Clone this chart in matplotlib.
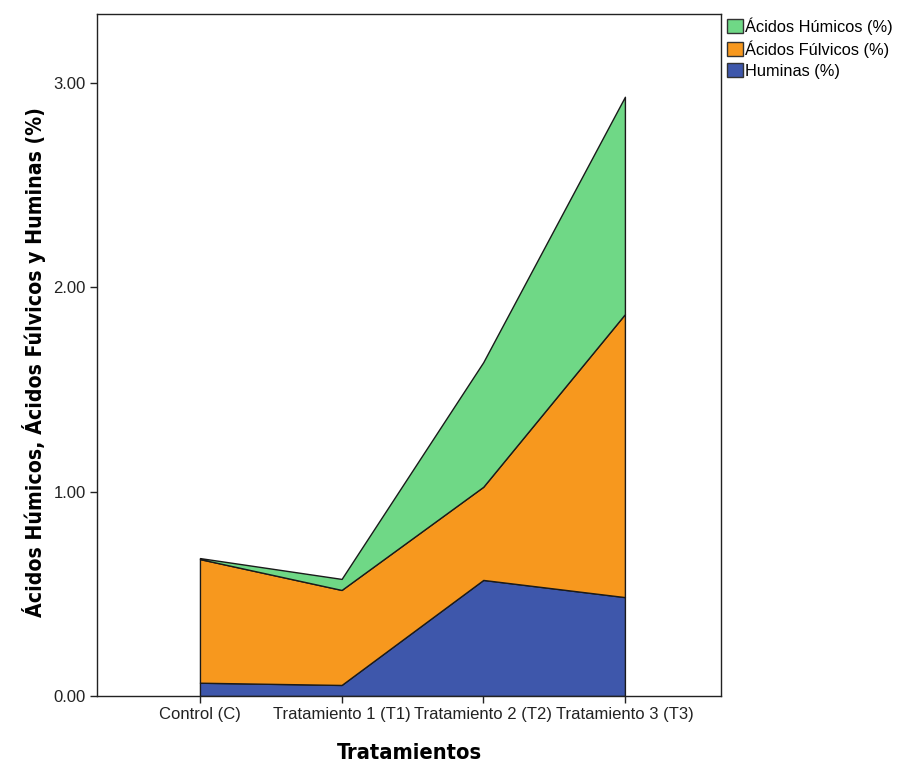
import matplotlib
matplotlib.use("Agg")
import matplotlib.pyplot as plt
from matplotlib.patches import Patch
from matplotlib import font_manager
import numpy as np

categories = ["Control (C)", "Tratamiento 1 (T1)", "Tratamiento 2 (T2)", "Tratamiento 3 (T3)"]
huminas = [0.065, 0.054, 0.568, 0.484]
fulvicos = [0.605, 0.465, 0.456, 1.385]
humicos = [0.005, 0.054, 0.610, 1.064]
yticks = [0.0, 1.0, 2.0, 3.0]
ytick_labels = ["0.00", "1.00", "2.00", "3.00"]

c_hum = "#6fd886"
c_ful = "#f7981e"
c_hmn = "#3e57ab"

plt.rcParams['font.family'] = ['Liberation Sans', 'DejaVu Sans']

# pick a condensed bold face if one is installed
cond = None
for f in font_manager.fontManager.ttflist:
    if f.name == 'DejaVu Sans' and str(f.stretch) in ('condensed', '87.5', '75') or \
       (f.name == 'DejaVu Sans' and 'Condensed' in f.fname):
        if str(f.weight) in ('700', 'bold') or 'Bold' in f.fname:
            cond = f.fname
            break
if cond is not None and 'Oblique' not in cond:
    xl_font = dict(fontproperties=font_manager.FontProperties(fname=cond, size=15.7))
    yl_font = dict(fontproperties=font_manager.FontProperties(fname=cond, size=15.2))
else:
    xl_font = dict(fontsize=16, fontweight='bold', family=['Liberation Sans', 'DejaVu Sans'])
    yl_font = xl_font

fig = plt.figure(figsize=(9.08, 7.66), dpi=100)
ax = fig.add_axes([0.1068, 0.0914, 0.794 - 0.1068, 0.9817 - 0.0914])

x = np.arange(len(categories))
b0 = np.zeros(len(x))
b1 = b0 + np.array(huminas)
b2 = b1 + np.array(fulvicos)
b3 = b2 + np.array(humicos)

ax.fill_between(x, b0, b1, facecolor=c_hmn, edgecolor="#1a1a1a", linewidth=1.0, zorder=2)
ax.fill_between(x, b1, b2, facecolor=c_ful, edgecolor="#1a1a1a", linewidth=1.0, zorder=2)
ax.fill_between(x, b2, b3, facecolor=c_hum, edgecolor="#1a1a1a", linewidth=1.0, zorder=2)

ax.set_xlim(-0.727, 3.678)
ax.set_ylim(0, 3.338)
ax.set_xticks(x)
ax.set_xticklabels(categories, fontsize=12)
ax.set_yticks(yticks)
ax.set_yticklabels(ytick_labels, fontsize=12)
ax.tick_params(direction='out', length=5, width=1, colors="#222222", labelcolor="#222222", pad=3)
for s in ax.spines.values():
    s.set_linewidth(1.0)
    s.set_color("#222222")

ax.set_xlabel("Tratamientos", labelpad=15, **xl_font)
ax.set_ylabel("Ácidos Húmicos, Ácidos Fúlvicos y Huminas (%)", **yl_font)
ax.yaxis.set_label_coords(-0.082, 0.49)

handles = [Patch(facecolor=c_hum, edgecolor="#333333", label="Ácidos Húmicos (%)"),
           Patch(facecolor=c_ful, edgecolor="#333333", label="Ácidos Fúlvicos (%)"),
           Patch(facecolor=c_hmn, edgecolor="#333333", label="Huminas (%)")]
fig.legend(handles=handles, loc="upper left", bbox_to_anchor=(0.797, 0.9815), frameon=False,
           fontsize=11.8, handlelength=0.95, handleheight=0.95, handletextpad=0.15,
           labelspacing=0.32, borderaxespad=0, borderpad=0.2)

fig.savefig("out.png", dpi=100)
